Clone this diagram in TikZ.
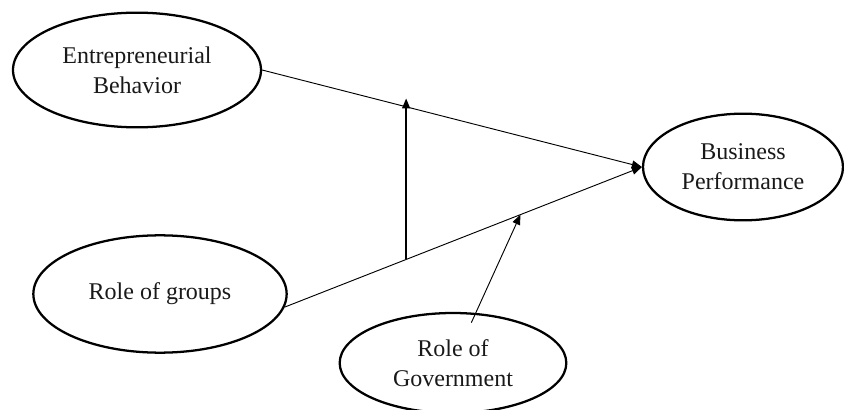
\documentclass[tikz,border=0pt]{standalone}
\usepackage{fontspec}
\setmainfont{Liberation Serif}
\usetikzlibrary{shapes.geometric,arrows.meta,calc}

\begin{document}
\begin{tikzpicture}[x=0.75pt, y=-0.75pt,
    every node/.style={draw,shape=ellipse,line width=1.7pt,inner sep=0pt,align=center,text=black!90,font=\fontsize{18}{22.5}\selectfont},
    link/.style={line width=0.7pt,-{Triangle[length=7.5pt,width=6pt]}}]
		\useasboundingbox (0,0) rectangle (844,410);
		\path (137,70) node[minimum width=186pt, minimum height=86pt] (eb) {Entrepreneurial\\Behavior}
		(743,167) node[minimum width=150pt, minimum height=80pt] (bp) {Business\\Performance}
		(160,294) node[minimum width=190pt, minimum height=88pt] (gr) {Role of groups}
		(453,363) node[minimum width=170pt, minimum height=75pt] (gov) {Role of\\Government};

		\coordinate (m1) at ($(gr.-6)!0.34!(bp.west)$);
		\coordinate (m2) at ($(eb.east)!0.39!(bp.west)$);
		\coordinate (m3) at ($(gr.-6)!0.66!(bp.west)$);

		\draw[link] (eb.east) -- (bp.west);
		\draw[link] (gr.-6) -- (bp.west);
		\draw[link, line width=1.1pt, shorten >=-7pt] (m1) -- (m1 |- m2);
		\draw[link, shorten <=-8pt] (gov) -- (m3);
	\end{tikzpicture}
\end{document}
